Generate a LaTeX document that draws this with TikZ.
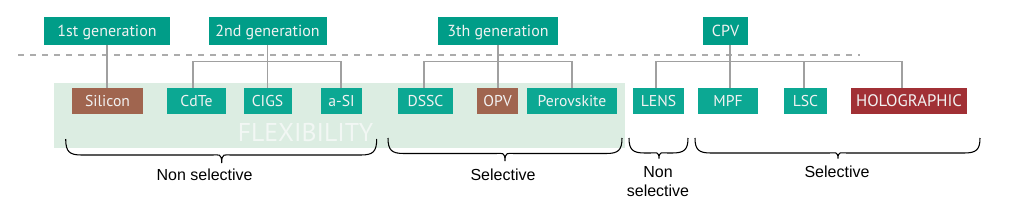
\documentclass[tikz,border=0pt]{standalone}
\usepackage{fontspec}
\setmainfont{PT Sans}
\newfontfamily\arialf{Liberation Sans}
\definecolor{tealtop}{RGB}{0,157,136}
\definecolor{tealbot}{RGB}{12,168,147}
\definecolor{brownc}{RGB}{160,101,79}
\definecolor{holored}{RGB}{161,48,53}
\definecolor{flexbg}{RGB}{220,237,226}
\definecolor{flexc}{RGB}{242,247,244}
\definecolor{linegray}{RGB}{160,160,160}
\definecolor{dashgray}{RGB}{172,172,172}
\definecolor{boxtext}{RGB}{242,242,242}
\newcommand\curlybrace[6]{%
  \draw[bracestyle] (#1,#4) .. controls (#1,#5-3) and (#1+4,#5) .. (#1+16,#5)
    -- (#3-9,#5) .. controls (#3-3,#5) and (#3,#5-2) .. (#3,#6)
    .. controls (#3,#5-2) and (#3+3,#5) .. (#3+9,#5)
    -- (#2-16,#5) .. controls (#2-4,#5) and (#2,#5-3) .. (#2,#4);}
\begin{document}
\begin{tikzpicture}[x=0.75pt,y=-0.75pt,
  topbox/.style={fill=tealtop, text=boxtext, inner sep=0pt, minimum height=20.6pt,
    text height=8.3pt, text depth=0pt, font=\fontsize{12}{13}\selectfont},
  botbox/.style={fill=tealbot, text=boxtext, inner sep=0pt, minimum height=19.5pt,
    text height=8.3pt, text depth=0pt, font=\fontsize{11.75}{13}\selectfont},
  brownbox/.style={botbox, fill=brownc},
  redbox/.style={botbox, fill=holored},
  conn/.style={draw=linegray, line width=1pt},
  dashline/.style={draw=dashgray, line width=1.4pt, dash pattern=on 4.5pt off 4.5pt},
  bracestyle/.style={draw=black, line width=0.8pt},
  lbl/.style={font=\arialf\fontsize{12}{14.25}\selectfont, align=center, inner sep=0pt}]
\useasboundingbox (0,0) rectangle (1010,212);
% flexibility background
\fill[flexbg] (54,83) rectangle (625,148);
\node[font=\fontsize{19.3}{20}\selectfont, text=flexc, inner sep=0pt] (flex) at (305.5,132) {FLEXIBILITY};
% dashed separator
\draw[dashline] (18,54.7) -- (860,54.7);
% top boxes
\node[topbox, minimum width=94.5pt] (g1) at (107,31) {1st generation};
\node[topbox, minimum width=88.5pt] (g2) at (267.5,31) {2nd generation};
\node[topbox, minimum width=90pt] (g3) at (498,31) {3th generation};
\node[topbox, minimum width=33.75pt] (cpv) at (725.5,31) {CPV};
% bottom boxes
\node[brownbox, minimum width=53.25pt] (silicon) at (107.5,101) {Silicon};
\node[botbox, minimum width=44.25pt] (cdte) at (196.5,101) {CdTe};
\node[botbox, minimum width=36pt] (cigs) at (267.5,101) {CIGS};
\node[botbox, minimum width=30.75pt] (asi) at (341.5,101) {a-SI};
\node[botbox, minimum width=41.25pt] (dssc) at (425.5,101) {DSSC};
\node[brownbox, minimum width=30.75pt] (opv) at (497.5,101) {OPV};
\node[botbox, minimum width=67.5pt] (perov) at (572,101) {Perovskite};
\node[botbox, minimum width=38.25pt] (lens) at (658.5,101) {LENS};
\node[botbox, minimum width=45pt] (mpf) at (728,101) {MPF};
\node[botbox, minimum width=32.25pt] (lsc) at (805.5,101) {LSC};
\node[redbox, minimum width=87pt, font=\fontsize{12.5}{13}\selectfont] (holo) at (909,101) {HOLOGRAPHIC};
% bus coordinates
\coordinate (b2l) at (193,61.3);
\coordinate (b2r) at (341,61.3);
\coordinate (b3l) at (424,61.3);
\coordinate (b3r) at (572,61.3);
\coordinate (bcl) at (656,61.3);
\coordinate (bcr) at (902,61.3);
\coordinate (cstem) at (730,61.3);
\coordinate (clsc) at (804,61.3);
% connectors
\draw[conn] (g1.south) -- (silicon.north -| g1.south);
\draw[conn] (g2.south) -- (cigs.north -| g2.south);
\draw[conn] (cdte.north -| b2l) -- (b2l) -- (b2r) -- (asi.north -| b2r);
\draw[conn] (g3.south) -- (opv.north -| g3.south);
\draw[conn] (dssc.north -| b3l) -- (b3l) -- (b3r) -- (perov.north -| b3r);
\draw[conn] (cpv.south -| cstem) -- (mpf.north -| cstem);
\draw[conn] (lens.north -| bcl) -- (bcl) -- (bcr) -- (holo.north -| bcr);
\draw[conn] (clsc) -- (lsc.north -| clsc);
% braces
\curlybrace{65.7}{376.7}{221.7}{139}{155}{163}
\curlybrace{388}{622}{505}{138}{153.5}{161}
\curlybrace{629}{688}{659}{138}{153}{158.5}
\curlybrace{695}{980}{838}{138}{153}{158.5}
% labels
\node[lbl] (l1) at (204.6,175) {Non selective};
\node[lbl] (l2) at (503,175) {Selective};
\node[lbl] (l3) at (658,181.5) {Non\\selective};
\node[lbl] (l4) at (837,172) {Selective};
\end{tikzpicture}
\end{document}
